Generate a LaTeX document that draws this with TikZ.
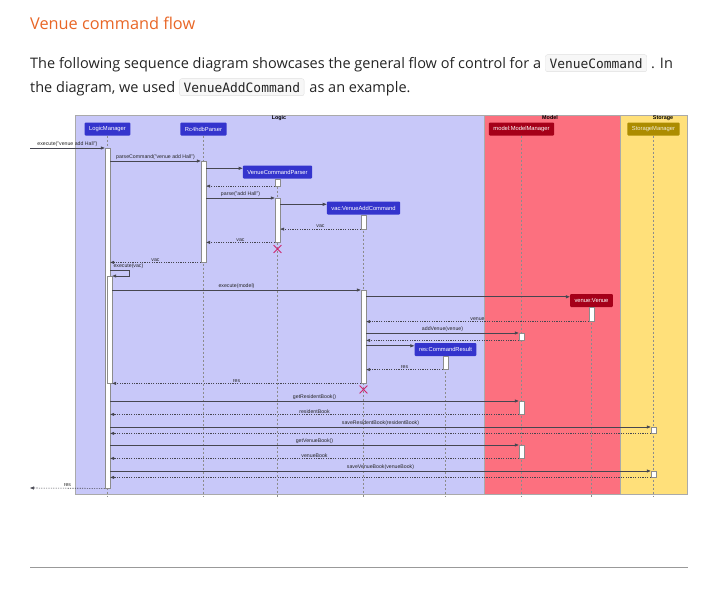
\documentclass[tikz,border=0pt]{standalone}
\usepackage{fontspec}
\setmainfont{Open Sans}
\setsansfont{Liberation Sans}
\setmonofont{DejaVu Sans Mono}
\usepackage{xcolor}
\usetikzlibrary{arrows.meta, positioning, shapes.misc}
\definecolor{HeadOrange}{RGB}{232,102,38}
\definecolor{BodyText}{RGB}{36,36,36}
\definecolor{LogicBg}{RGB}{200,200,249}
\definecolor{ModelBg}{RGB}{252,112,127}
\definecolor{StorageBg}{RGB}{255,224,122}
\definecolor{LogicHead}{RGB}{52,52,205}
\definecolor{ModelHead}{RGB}{165,0,25}
\definecolor{StorageHead}{RGB}{172,140,0}
\definecolor{KillPink}{RGB}{205,40,110}
\definecolor{FrameGray}{RGB}{170,170,170}
\definecolor{MsgGray}{RGB}{70,70,80}

\begin{document}
\begin{tikzpicture}[x=1pt, y=-1pt,
    body/.style={inner sep=0pt, text=BodyText, font=\fontsize{14.5}{17}\selectfont},
    codebox/.style={draw=black!12, fill=black!3, rounded corners=2pt, inner xsep=4pt,
        inner ysep=3.5pt, text=BodyText, font=\ttfamily\fontsize{12.9}{15}\selectfont},
    head/.style={rounded corners=1pt, text=white, inner xsep=4.5pt, minimum height=13pt,
        font=\sffamily\fontsize{5.8}{7}\selectfont},
    logichead/.style={head, fill=LogicHead},
    modelhead/.style={head, fill=ModelHead},
    storagehead/.style={head, fill=StorageHead, text=white!85!StorageHead},
    act/.style={draw=black!45, fill=white, minimum width=5pt, inner sep=0pt, anchor=north},
    life/.style={draw=black!45, dash pattern=on 2pt off 2pt, line width=0.4pt},
    msg/.style={draw=MsgGray, line width=0.7pt, -{Triangle[length=4pt, width=3pt]}},
    ret/.style={msg, line width=0.6pt, dash pattern=on 1.2pt off 1.2pt},
    lbl/.style={above, inner sep=1pt, text=black!85, font=\sffamily\fontsize{5.2}{6}\selectfont},
    kill/.style={cross out, draw=KillPink, line width=0.8pt, minimum size=7pt, inner sep=0pt},
    frametitle/.style={inner sep=0pt, font=\sffamily\bfseries\fontsize{5.4}{6}\selectfont}]
  \useasboundingbox (0,0) rectangle (721,597);

  % page text
  \node[anchor=base west, inner sep=0pt, text=HeadOrange, font=\fontsize{16.3}{20}\selectfont]
    (title) at (30,29) {Venue command flow};
  \node[body, anchor=base west] (line1) at (30,68)
    {The following sequence diagram showcases the general flow of control for a};
  \node[codebox, base right=4pt of line1] (code1) {VenueCommand};
  \node[body, base right=4pt of code1] (line1b) {. In};
  \node[body, anchor=base west] (line2) at (30,92) {the diagram, we used};
  \node[codebox, base right=4pt of line2] (code2) {VenueAddCommand};
  \node[body, base right=5pt of code2] (line2b) {as an example.};

  % frames
  \draw[FrameGray, fill=LogicBg] (75,115) rectangle (484,494);
  \draw[FrameGray, fill=ModelBg] (484,115) rectangle (620,494);
  \draw[FrameGray, fill=StorageBg] (620,115) rectangle (687,494);
  \node[frametitle] (logicT) at (279,118) {Logic};
  \node[frametitle] (modelT) at (550,118) {Model};
  \node[frametitle] (storageT) at (663,118) {Storage};

  % participants
  \node[logichead] (lm) at (107.5,129) {LogicManager};
  \node[logichead] (rp) at (203.5,129) {Rc4hdbParser};
  \node[logichead] (vcp) at (277.5,172) {VenueCommandParser};
  \node[logichead] (vac) at (363.5,208) {vac:VenueAddCommand};
  \node[logichead] (res) at (445.5,349.5) {res:CommandResult};
  \node[modelhead] (mm) at (521.5,129) {model:ModelManager};
  \node[modelhead] (ven) at (591.5,300.5) {venue:Venue};
  \node[storagehead] (sm) at (653.5,129) {StorageManager};
  \foreach \p in {vcp,vac,ven,res}
    \coordinate (\p In) at ([yshift=-3pt]\p.north west);

  % lifelines
  \foreach \p in {lm,rp,mm,sm,ven,res,vcp,vac}
    \draw[life] (\p.south) -- (\p.south |- 0,497);

  % activations
  \node[act, minimum height=340pt] (lmA) at (lm.south |- 0,148) {};
  \node[act, minimum height=107pt] (lmB) at ([xshift=2pt]lm.south |- 0,276) {};
  \node[act, minimum height=101pt] (rpA) at (rp.south |- 0,161) {};
  \node[act, minimum height=7pt] (vcpA) at (vcp.south) {};
  \node[act, minimum height=44pt] (vcpB) at (vcp.south |- 0,198) {};
  \node[act, minimum height=14pt] (vacA) at (vac.south) {};
  \node[act, minimum height=93pt] (vacB) at (vac.south |- 0,290) {};
  \node[act, minimum height=14pt] (venA) at (ven.south) {};
  \node[act, minimum height=7pt] (mmA) at (mm.south |- 0,333) {};
  \node[act, minimum height=13pt] (resA) at (res.south) {};
  \node[act, minimum height=13pt] (mmB) at (mm.south |- 0,401) {};
  \node[act, minimum height=6pt] (smA) at (sm.south |- 0,427) {};
  \node[act, minimum height=13pt] (mmC) at (mm.south |- 0,445) {};
  \node[act, minimum height=6pt] (smB) at (sm.south |- 0,471) {};

  % destroyed objects
  \node[kill] (vcpX) at (vcp.south |- 0,249) {};
  \node[kill] (vacX) at (vac.south |- 0,389.5) {};

  % parsing
  \coordinate (entry) at (30,148);
  \coordinate (exit) at (30,488);
  \draw[msg] (entry) -- node[lbl] {execute("venue add Hall")} (lmA.north west);
  \draw[msg] (lmA.east |- rpA.north) -- node[lbl] {parseCommand("venue add Hall")} (rpA.north west);
  \draw[msg] (rpA.east |- vcpIn) -- (vcpIn);
  \draw[ret] (vcpA.south west) -- (rpA.east |- vcpA.south);
  \draw[msg] (rpA.east |- vcpB.north) -- node[lbl] {parse("add Hall")} (vcpB.north west);
  \draw[msg] (vcpB.east |- vacIn) -- (vacIn);
  \draw[ret] (vacA.south west) -- node[lbl] {vac} (vcpB.east |- vacA.south);
  \draw[ret] (vcpB.south west) -- node[lbl] {vac} (rpA.east |- vcpB.south);
  \draw[ret] (rpA.south west) -- node[lbl] {vac} (lmA.east |- rpA.south);

  % executing
  \draw[msg] (lmA.east |- 0,270) node[lbl, anchor=south west, xshift=2pt] {execute(vac)}
    -- ++(19,0) |- (lmB.north east);
  \draw[msg] (lmB.east |- vacB.north) -- node[lbl] {execute(model)} (vacB.north west);
  \draw[msg] (vacB.east |- venIn) -- (venIn);
  \draw[ret] (venA.south west) -- node[lbl] {venue} (vacB.east |- venA.south);
  \draw[msg] (vacB.east |- mmA.north) -- node[lbl] {addVenue(venue)} (mmA.north west);
  \draw[ret] (mmA.south west) -- (vacB.east |- mmA.south);
  \draw[msg] (vacB.east |- resIn) -- (resIn);
  \draw[ret] (resA.south west) -- node[lbl] {res} (vacB.east |- resA.south);
  \draw[ret] (vacB.south west) -- node[lbl] {res} (lmB.east |- vacB.south);

  % saving
  \draw[msg] (lmA.east |- mmB.north) -- node[lbl] {getResidentBook()} (mmB.north west);
  \draw[ret] (mmB.south west) -- node[lbl] {residentBook} (lmA.east |- mmB.south);
  \draw[msg] (lmA.east |- smA.north) -- node[lbl] {saveResidentBook(residentBook)} (smA.north west);
  \draw[ret] (smA.south west) -- (lmA.east |- smA.south);
  \draw[msg] (lmA.east |- mmC.north) -- node[lbl] {getVenueBook()} (mmC.north west);
  \draw[ret] (mmC.south west) -- node[lbl] {venueBook} (lmA.east |- mmC.south);
  \draw[msg] (lmA.east |- smB.north) -- node[lbl] {saveVenueBook(venueBook)} (smB.north west);
  \draw[ret] (smB.south west) -- (lmA.east |- smB.south);
  \draw[ret] (lmA.south west) -- node[lbl] {res} (exit);

  % rule
  \draw[black!40, line width=0.8pt] (30,567) -- (688,567);
\end{tikzpicture}
\end{document}
